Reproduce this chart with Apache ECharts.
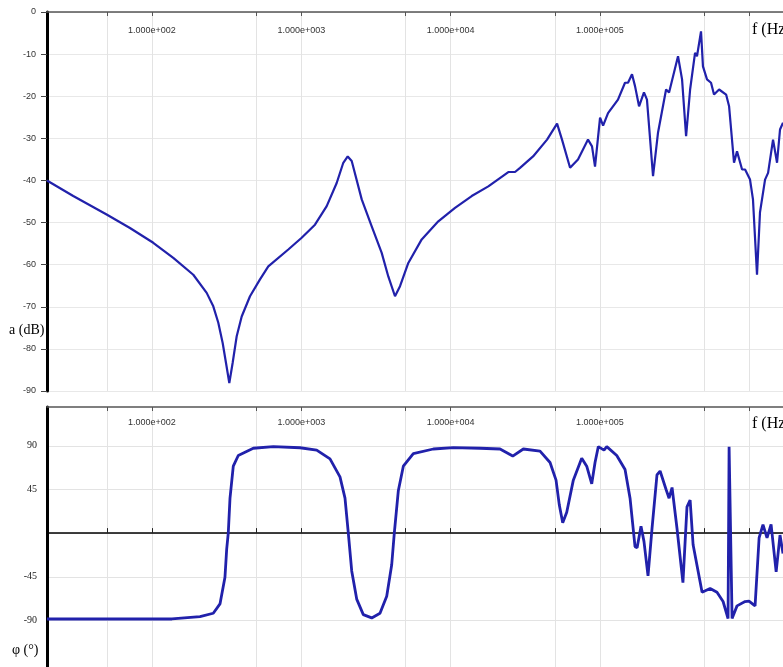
<!DOCTYPE html>
<html><head><meta charset="utf-8">
<script src="https://cdn.jsdelivr.net/npm/echarts@6/dist/echarts.min.js"></script>
<style>html,body{margin:0;padding:0;background:#fff}#c{width:783px;height:667px}</style>
</head><body><div id="c"></div>
<script>
// Magnitude response (frequency in Hz, gain in dB)
const magFreq = [19.8, 29.7, 49.7, 71.2, 102, 138.9, 189.1, 232.5, 257.4, 278.1, 297.5, 313, 329.5, 347.1, 369.3, 398.9, 453.4, 529, 601.2, 818.4, 1006, 1235, 1480, 1726, 1911, 2046, 2176, 2539, 2962, 3455, 3825, 4242, 4584, 5209, 6403, 8273, 10702, 13846, 17885, 24350, 27000, 29170, 35650, 44250, 51640, 55720, 63100, 71300, 83200, 88500, 92700, 100200, 105000, 113300, 132100, 147200, 154200, 164000, 171800, 182800, 197200, 206500, 226800, 245000, 277300, 290400, 333400, 354800, 377600, 401800, 433500, 446700, 475300, 489800, 521200, 554600, 580800, 628100, 699800, 732800, 790700, 828000, 895300, 937600, 1012000, 1059000, 1127000, 1180000, 1276000, 1337000, 1443000, 1535000, 1607000, 1683000];
const magDb = [-40, -43.7, -48.1, -51.3, -54.8, -58.4, -62.4, -66.7, -69.9, -73.8, -78.6, -83.3, -88.1, -83.3, -77, -72.3, -67.5, -63.5, -60.4, -56.4, -53.6, -50.5, -46.1, -40.6, -35.8, -34.3, -35.4, -44.5, -50.9, -57.2, -62.8, -67.5, -65.1, -59.6, -54, -49.7, -46.5, -43.7, -41.4, -38, -38, -37, -34.3, -30.3, -26.5, -30.3, -37, -35, -30.3, -31.9, -36.7, -25.1, -27, -24, -20.8, -16.8, -16.8, -14.8, -17.6, -22.4, -19.1, -20.8, -39, -28.6, -18.4, -19.1, -10.5, -16, -29.5, -18.4, -9.7, -10.5, -4.6, -12.9, -16, -16.8, -19.6, -18.4, -19.6, -22.4, -35.8, -33.1, -37.4, -37.4, -39.8, -44.5, -62.4, -47.6, -39.8, -38.2, -30.3, -35.8, -27.9, -26.3];

// Phase response (frequency in Hz, phase in degrees)
const phaseFreq = [19.8, 44.9, 136.1, 209.7, 257.4, 285.4, 308.2, 316.5, 324.3, 333.1, 350.4, 378.4, 477, 649.4, 980.2, 1268, 1557, 1816, 1962, 2065, 2176, 2350, 2602, 2962, 3366, 3733, 4032, 4196, 4464, 4823, 5626, 7660, 10426, 15737, 21424, 26061, 30690, 39700, 46330, 50820, 53460, 56340, 59940, 66340, 75510, 81560, 88120, 92730, 97570, 106500, 111100, 129600, 147300, 159100, 171800, 177400, 188400, 197200, 209900, 223300, 241000, 252900, 277300, 290400, 304100, 328100, 359700, 382800, 401800, 420700, 483100, 547000, 608100, 668000, 721100, 732800, 755100, 767400, 828000, 937600, 995500, 1094000, 1164000, 1236000, 1315000, 1400000, 1514000, 1607000, 1683000];
const phaseDeg = [-88.5, -88.5, -88.5, -86, -82.6, -73, -45.5, -16.5, 0, 36, 69, 80, 87.5, 89.2, 88, 85.6, 76.5, 58, 36, 0, -39, -68, -84, -87.4, -82.6, -65, -32.6, 0, 43.6, 69, 82, 86.7, 88.1, 87.5, 86.7, 79.4, 86.7, 84.5, 72.8, 54.6, 28.9, 10.6, 21.6, 54.6, 77.2, 69, 50.8, 72.8, 89.2, 85.6, 89.2, 80, 65.5, 36, -14, -15, 7, -8.5, -44, 5, 60, 64, 45, 36, 47, 5, -51, 27, 34, -12, -61, -57, -61, -70.5, -88, 89, 89, -88, -75, -70.5, -70, -75, -5, 8.8, -5, 9, -40, -2, -21];

// Axis ticks / labels
const gridFreqs = [50, 100, 500, 1000, 5000, 10000, 50000, 100000, 500000, 1000000];
const decadeExponents = [2, 3, 4, 5];
const phaseGridValues = [90, 45, 0, -45, -90];
const phaseLabelValues = [90, 45, -45, -90];

const xMin = 1.297, xMax = 6.226;
const gridLogs = gridFreqs.map(f => Math.log10(f));
const sans = '"Liberation Sans", Arial, sans-serif';
const serif = '"Liberation Serif", "Times New Roman", serif';
const lineColor = '#2121ab';

function topX(gridIndex, margin) {
  return {
    type: 'value', gridIndex, position: 'top', min: xMin, max: xMax,
    axisLine: { show: true, onZero: false, lineStyle: { color: '#555', width: 1.5 } },
    axisTick: { show: true, inside: true, length: 4, customValues: gridLogs, lineStyle: { color: '#555' } },
    axisLabel: { inside: true, margin, customValues: decadeExponents,
      formatter: v => '1.000e+00' + Math.round(v), fontSize: 9, fontFamily: sans, color: '#333' },
    splitLine: { show: true, lineStyle: { color: '#e3e3e3', width: 1 } }
  };
}

const chart = echarts.init(document.getElementById('c'));
chart.setOption({
  animation: false,
  backgroundColor: '#fff',
  grid: [
    { left: 47, right: 0, top: 12, height: 379 },
    { left: 47, right: 0, top: 407, bottom: 0 }
  ],
  xAxis: [
    topX(0, 14),
    topX(1, 11),
    {
      type: 'value', gridIndex: 1, position: 'bottom', min: xMin, max: xMax,
      axisLine: { show: true, onZero: true, lineStyle: { color: '#000', width: 1.5 } },
      axisTick: { show: true, inside: true, length: 5, customValues: gridLogs, lineStyle: { color: '#222' } },
      axisLabel: { show: false },
      splitLine: { show: false }
    }
  ],
  yAxis: [
    {
      type: 'value', gridIndex: 0, min: -90, max: 0, interval: 10,
      axisLine: { show: true, lineStyle: { color: '#000', width: 3 } },
      axisTick: { show: true, length: 6, lineStyle: { color: '#444' } },
      axisLabel: { fontSize: 9, fontFamily: sans, color: '#333', margin: 11 },
      splitLine: { show: true, lineStyle: { color: '#e8e8e8' } }
    },
    {
      type: 'value', gridIndex: 1, min: -138, max: 130,
      axisLine: { show: true, onZero: false, lineStyle: { color: '#000', width: 3 } },
      axisTick: { show: false, customValues: phaseGridValues },
      axisLabel: { customValues: phaseLabelValues, fontSize: 10, fontFamily: serif, color: '#222', margin: 10 },
      splitLine: { show: true, lineStyle: { color: '#e3e3e3' } }
    }
  ],
  series: [
    {
      type: 'line', xAxisIndex: 0, yAxisIndex: 0, showSymbol: false,
      data: magFreq.map((f, i) => [Math.log10(f), magDb[i]]),
      lineStyle: { color: lineColor, width: 2.2 }
    },
    {
      type: 'line', xAxisIndex: 1, yAxisIndex: 1, showSymbol: false,
      data: phaseFreq.map((f, i) => [Math.log10(f), phaseDeg[i]]),
      lineStyle: { color: lineColor, width: 2.8 }
    }
  ],
  graphic: [
    { type: 'text', x: 9, y: 330, style: { text: 'a (dB)', fontSize: 14, fontFamily: serif, fill: '#000', verticalAlign: 'middle' } },
    { type: 'text', x: 12, y: 650, style: { text: 'φ (°)', fontSize: 14, fontFamily: serif, fill: '#000', verticalAlign: 'middle' } },
    { type: 'text', x: 752, y: 30, style: { text: 'f (Hz)', fontSize: 16, fontFamily: serif, fill: '#000', verticalAlign: 'middle' } },
    { type: 'text', x: 752, y: 424, style: { text: 'f (Hz)', fontSize: 16, fontFamily: serif, fill: '#000', verticalAlign: 'middle' } }
  ]
});
</script>
</body></html>
